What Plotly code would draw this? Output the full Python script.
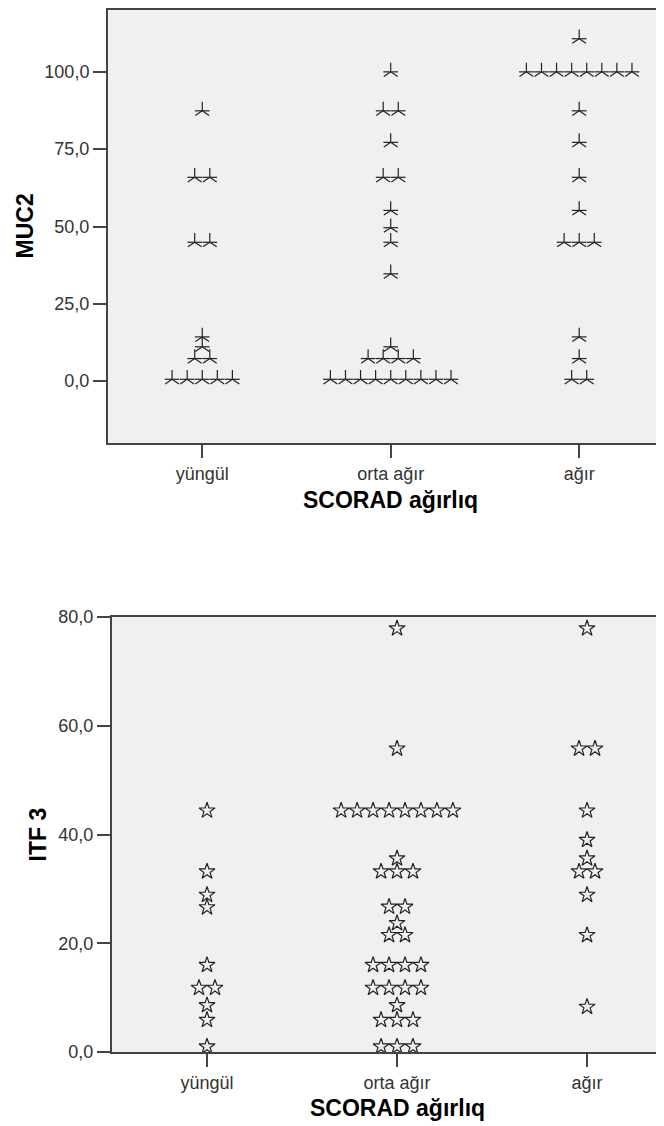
import plotly.graph_objects as go

# ---------------- data ----------------
categories = ["yüngül", "orta ağır", "ağır"]

# MUC2 values per SCORAD category
muc2_yungul = [87.4, 65.9, 65.9, 44.9, 44.9, 14.3, 11.1, 7.3, 7.3,
               0.6, 0.6, 0.6, 0.6, 0.6]
muc2_orta = [100.0, 87.4, 87.4, 77.2, 65.9, 65.9, 55.2, 49.6, 44.9, 34.7,
             11.1, 7.3, 7.3, 7.3, 7.3,
             0.6, 0.6, 0.6, 0.6, 0.6, 0.6, 0.6, 0.6, 0.6]
muc2_agir = [110.7, 100.0, 100.0, 100.0, 100.0, 100.0, 100.0, 100.0, 100.0,
             87.4, 77.2, 65.9, 55.2, 44.9, 44.9, 44.9, 14.3, 7.3, 0.6, 0.6]

# ITF 3 values per SCORAD category
itf3_yungul = [44.4, 33.2, 28.9, 26.6, 16.0, 11.8, 11.8, 8.6, 5.9, 1.0]
itf3_orta = [77.9, 55.8,
             44.4, 44.4, 44.4, 44.4, 44.4, 44.4, 44.4, 44.4,
             35.6, 33.2, 33.2, 33.2, 26.7, 26.7, 23.7, 21.5, 21.5,
             16.0, 16.0, 16.0, 16.0, 11.8, 11.8, 11.8, 11.8, 8.6,
             5.9, 5.9, 5.9, 1.0, 1.0, 1.0]
itf3_agir = [77.9, 55.8, 55.8, 44.4, 39.0, 35.6, 33.2, 33.2, 28.9, 21.5, 8.3]

muc2_ticks = [0, 25, 50, 75, 100]
itf3_ticks = [0, 20, 40, 60, 80]


def stack(groups, step):
    """Dot-plot stacking: identical values are laid side by side around the category."""
    xs, ys = [], []
    for ci, vals in enumerate(groups):
        counts = {}
        for v in vals:
            counts[v] = counts.get(v, 0) + 1
        for v, k in counts.items():
            for i in range(k):
                xs.append(ci + (i - (k - 1) / 2) * step)
                ys.append(v)
    return xs, ys


mx, my = stack([muc2_yungul, muc2_orta, muc2_agir], 0.08)
ix, iy = stack([itf3_yungul, itf3_orta, itf3_agir], 0.084)

# page body has an 8px margin: the figure is sized so it ends at the window edge
OFF = 8
W, H = 664 - OFF, 1126 - OFF
FONT = "Liberation Sans, Arial, sans-serif"
LINE = "#444444"
MK = "#222222"


def px_x(p):
    return (p - OFF) / W


def px_y(p):
    return 1 - (p - OFF) / H


fig = go.Figure()
# asterisk-like marker for MUC2 (two overlaid line symbols)
for sym, sz in (("y-up-open", 11.5), ("line-ew-open", 10.5)):
    fig.add_trace(go.Scatter(
        x=mx, y=my, mode="markers", xaxis="x", yaxis="y",
        marker=dict(symbol=sym, size=sz, color=MK, line=dict(color=MK, width=1.2)),
        cliponaxis=False, showlegend=False, hoverinfo="y"))

fig.add_trace(go.Scatter(
    x=ix, y=iy, mode="markers", xaxis="x2", yaxis="y2",
    marker=dict(symbol="star-open", size=12, color=MK, line=dict(color=MK, width=1.2)),
    cliponaxis=False, showlegend=False, hoverinfo="y"))

axis_common = dict(
    showgrid=False, zeroline=False, showline=True, linecolor=LINE, linewidth=2,
    ticks="outside", ticklen=13, tickwidth=1.5, tickcolor=LINE,
    tickfont=dict(family=FONT, size=18, color="#333333"), automargin=False,
)

fig.update_layout(
    width=W, height=H,
    margin=dict(l=0, r=0, t=0, b=0),
    paper_bgcolor="white", plot_bgcolor="#f0f0f0",
    separators=",.",
    xaxis=dict(domain=[px_x(108), 1], range=[-0.5, 2.45], anchor="y", mirror=True,
               tickvals=[0, 1, 2], ticktext=categories, **axis_common),
    yaxis=dict(domain=[px_y(443), px_y(10)], range=[-20, 120], anchor="x",
               tickvals=muc2_ticks, tickformat=".1f", **axis_common),
    xaxis2=dict(domain=[px_x(112), 1], range=[-0.5, 2.405], anchor="y2", mirror=True,
                tickvals=[0, 1, 2], ticktext=categories, **axis_common),
    yaxis2=dict(domain=[px_y(1052), px_y(617)], range=[0, 80], anchor="x2",
                tickvals=itf3_ticks, tickformat=".1f", **axis_common),
)

title_font = dict(family=FONT, size=23, color="black")
fig.add_annotation(text="<b>MUC2</b>", xref="paper", yref="paper",
                   x=px_x(24.5), y=px_y(226), textangle=-90, showarrow=False,
                   font=title_font, xanchor="center", yanchor="middle")
fig.add_annotation(text="<b>SCORAD ağırlıq</b>", xref="paper", yref="paper",
                   x=px_x(390), y=px_y(500), showarrow=False,
                   font=title_font, xanchor="center", yanchor="middle")
fig.add_annotation(text="<b>ITF 3</b>", xref="paper", yref="paper",
                   x=px_x(37), y=px_y(834.5), textangle=-90, showarrow=False,
                   font=title_font, xanchor="center", yanchor="middle")
fig.add_annotation(text="<b>SCORAD ağırlıq</b>", xref="paper", yref="paper",
                   x=px_x(397), y=px_y(1108), showarrow=False,
                   font=title_font, xanchor="center", yanchor="middle")

fig.write_html("out.html")
